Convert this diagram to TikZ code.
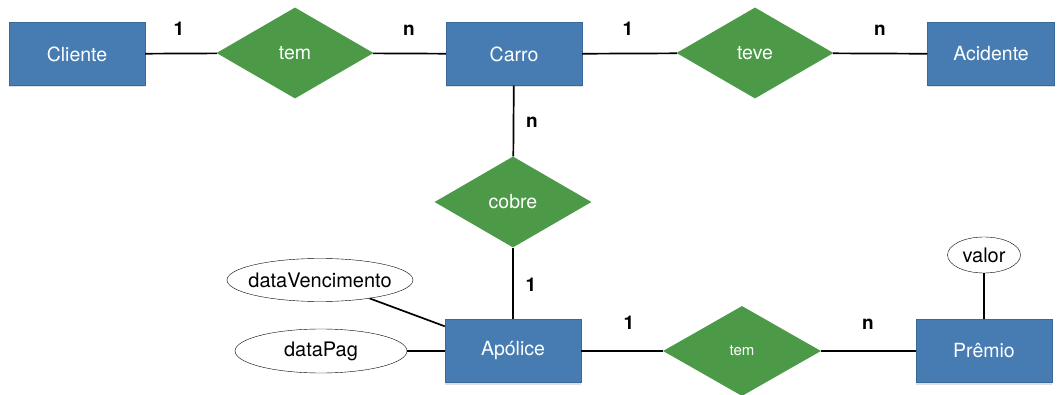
\documentclass[tikz,border=0pt]{standalone}
\usepackage{fontspec}
\setmainfont{TeX Gyre Heros}
\usepackage{xcolor}
\usepackage{tikz}
\usetikzlibrary{shapes.geometric,shadows}

\definecolor{entblue}{HTML}{477CB2}
\definecolor{entedge}{HTML}{3A6898}
\definecolor{relgreen}{HTML}{4C9A47}

\tikzset{
    entity/.style={rectangle, draw=entedge, fill=entblue, text=white, minimum width=136pt, minimum height=63pt,
        font=\fontsize{19.5}{22}\selectfont, drop shadow={shadow xshift=0pt, shadow yshift=-2pt, opacity=0.25}},
    relation/.style={diamond, fill=relgreen, text=white, minimum width=157pt, minimum height=91pt, inner sep=0pt,
        font=\fontsize{19.5}{22}\selectfont},
    attrib/.style={ellipse, draw, thin, fill=white, inner sep=0pt, font=\fontsize{20}{22}\selectfont},
    card/.style={font=\bfseries\fontsize{19}{20}\selectfont, anchor=base, inner sep=0pt},
    link/.style={line width=1.7pt}
}

\begin{document}
\begin{tikzpicture}[x=1pt,y=-1pt]
    \useasboundingbox (0,0) rectangle (1060,395);

    % entities
    \node(cliente) [entity] at (77,54) {Cliente};
    \node(carro) [entity] at (514,54) {Carro};
    \node(acidente) [entity, minimum width=127pt] at (991,54) {Acidente};
    \node(apolice) [entity] at (513,351) {Apólice};
    \node(premio) [entity] at (984,351) {Prêmio};

    % relationships
    \node(temCli) [relation] at (295,53) {tem};
    \node(teve) [relation] at (755,53) {teve};
    \node(cobre) [relation] at (513,202) {cobre};
    \node(temPre) [relation, minimum width=158pt, minimum height=90pt, font=\fontsize{15}{18}\selectfont] at (742,351) {tem};

    % attributes
    \node(dataVenc) [attrib, inner xsep=-8pt, minimum width=186pt, minimum height=43pt] at (320,280) {dataVencimento};
    \node(dataPag) [attrib, minimum width=172pt, minimum height=44pt] at (321,351) {dataPag};
    \node(valor) [attrib, minimum width=73pt, minimum height=36pt] at (984,255) {valor};

    % connections
    \draw[link] (cliente) -- (temCli);
    \draw[link] (temCli) -- (carro);
    \draw[link] (carro) -- (teve);
    \draw[link] (teve) -- (acidente);
    \draw[link] (carro) -- (cobre);
    \draw[link] (cobre) -- (apolice);
    \draw[link] (apolice) -- (temPre);
    \draw[link] (temPre) -- (premio);
    \draw[link] (valor) -- (premio);
    \draw[link] (dataPag) -- (apolice);
    \draw[link] (dataVenc) -- ([yshift=-7pt]apolice.north west);

    % cardinalities
    \node(c1) [card] at (179,36) {1};
    \node(c2) [card] at (409,36) {n};
    \node(c3) [card] at (628,36) {1};
    \node(c4) [card] at (880,36) {n};
    \node(c5) [card] at (532,128) {n};
    \node(c6) [card] at (531,292) {1};
    \node(c7) [card] at (629,330) {1};
    \node(c8) [card] at (868,330) {n};
\end{tikzpicture}
\end{document}
